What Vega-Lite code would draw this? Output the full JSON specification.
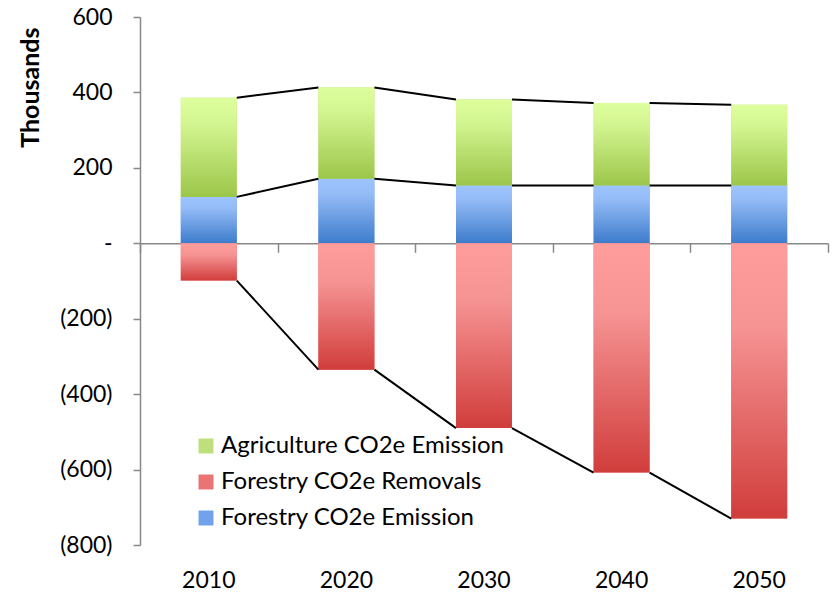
{
  "$schema": "https://vega.github.io/schema/vega-lite/v6.json",
  "width": 688,
  "height": 528,
  "autosize": "none",
  "padding": {"left": 140, "top": 17, "right": 6, "bottom": 48},
  "background": "white",
  "config": {
    "font": "Lato",
    "view": {"stroke": null},
    "axis": {"labelFont": "Lato", "labelFontSize": 23, "labelColor": "#000000", "grid": false, "domainColor": "#888888", "tickColor": "#888888", "domainWidth": 1.5, "tickWidth": 1.5},
    "legend": {"labelFont": "Lato", "labelFontSize": 24, "labelColor": "#000000"}
  },
  "datasets": {
    "bars": [
      {"year": 2010, "series": "Forestry CO2e Emission", "value": 123},
      {"year": 2020, "series": "Forestry CO2e Emission", "value": 171},
      {"year": 2030, "series": "Forestry CO2e Emission", "value": 153},
      {"year": 2040, "series": "Forestry CO2e Emission", "value": 153},
      {"year": 2050, "series": "Forestry CO2e Emission", "value": 153},
      {"year": 2010, "series": "Agriculture CO2e Emission", "value": 263},
      {"year": 2020, "series": "Agriculture CO2e Emission", "value": 242},
      {"year": 2030, "series": "Agriculture CO2e Emission", "value": 228},
      {"year": 2040, "series": "Agriculture CO2e Emission", "value": 219},
      {"year": 2050, "series": "Agriculture CO2e Emission", "value": 214},
      {"year": 2010, "series": "Forestry CO2e Removals", "value": -99},
      {"year": 2020, "series": "Forestry CO2e Removals", "value": -335},
      {"year": 2030, "series": "Forestry CO2e Removals", "value": -490},
      {"year": 2040, "series": "Forestry CO2e Removals", "value": -608},
      {"year": 2050, "series": "Forestry CO2e Removals", "value": -730}
    ],
    "lines": [
      {"year": 2010, "nextYear": 2020, "from": 386, "to": 413},
      {"year": 2020, "nextYear": 2030, "from": 413, "to": 381},
      {"year": 2030, "nextYear": 2040, "from": 381, "to": 372},
      {"year": 2040, "nextYear": 2050, "from": 372, "to": 367},
      {"year": 2010, "nextYear": 2020, "from": 123, "to": 171},
      {"year": 2020, "nextYear": 2030, "from": 171, "to": 153},
      {"year": 2030, "nextYear": 2040, "from": 153, "to": 153},
      {"year": 2040, "nextYear": 2050, "from": 153, "to": 153},
      {"year": 2010, "nextYear": 2020, "from": -99, "to": -335},
      {"year": 2020, "nextYear": 2030, "from": -335, "to": -490},
      {"year": 2030, "nextYear": 2040, "from": -490, "to": -608},
      {"year": 2040, "nextYear": 2050, "from": -608, "to": -730}
    ]
  },
  "layer": [
    {
      "data": {"name": "bars"},
      "mark": {"type": "bar", "width": {"band": 0.407}},
      "encoding": {
        "x": {
          "field": "year", "type": "ordinal",
          "scale": {"paddingInner": 0, "paddingOuter": 0},
          "axis": {"orient": "bottom", "labels": false, "domain": true, "ticks": true, "tickBand": "extent", "tickSize": 9, "title": null,
                   "offset": {"expr": "scale('y', 0) - height"}}
        },
        "y": {
          "field": "value", "type": "quantitative", "stack": "zero",
          "scale": {"domain": [-800, 600], "nice": false, "zero": false},
          "axis": {
            "values": [-800, -600, -400, -200, 0, 200, 400, 600],
            "tickSize": 7, "labelPadding": 21,
            "labelExpr": "datum.value == 0 ? '-\u2007\u2007\u00a0' : (datum.value < 0 ? '(' + format(-datum.value, 'd') + ')' : format(datum.value, 'd') + '\u00a0')",
            "title": "Thousands", "titleFont": "Lato", "titleFontSize": 25, "titleFontWeight": "bold", "titleColor": "#000000",
            "titleAnchor": "end", "titleY": 10, "titleAlign": "right", "titlePadding": 16
          }
        },
        "color": {
          "field": "series", "type": "nominal",
          "scale": {
            "domain": ["Agriculture CO2e Emission", "Forestry CO2e Removals", "Forestry CO2e Emission"],
            "range": ["#bde07c", "#ea7474", "#72a3ea"]
          },
          "legend": {
            "title": null, "orient": "none", "legendX": 54, "legendY": 417,
            "symbolType": "square", "symbolSize": 225, "symbolStrokeWidth": 0, "symbolOpacity": 1,
            "labelOffset": 3, "rowPadding": 12, "padding": 0, "labelLimit": 0
          }
        },
        "order": {"field": "series", "sort": "descending"}
      }
    },
    {
      "data": {"name": "bars"},
      "mark": {"type": "bar", "width": {"band": 0.407}},
      "encoding": {
        "x": {"field": "year", "type": "ordinal", "axis": null},
        "y": {"field": "value", "type": "quantitative", "stack": "zero"},
        "detail": {"field": "series"},
        "fill": {
          "condition": [
            {"test": "datum.series == 'Agriculture CO2e Emission'", "value": {"gradient": "linear", "x1": 0, "y1": 0, "x2": 0, "y2": 1, "stops": [{"offset": 0, "color": "#ddfe9c"}, {"offset": 0.25, "color": "#d4f692"}, {"offset": 1, "color": "#9cc64a"}]}},
            {"test": "datum.series == 'Forestry CO2e Removals'", "value": {"gradient": "linear", "x1": 0, "y1": 0, "x2": 0, "y2": 1, "stops": [{"offset": 0, "color": "#ff9c9c"}, {"offset": 0.3, "color": "#f69494"}, {"offset": 1, "color": "#d03d3b"}]}}
          ],
          "value": {"gradient": "linear", "x1": 0, "y1": 0, "x2": 0, "y2": 1, "stops": [{"offset": 0, "color": "#9dc4ff"}, {"offset": 0.25, "color": "#93bbf6"}, {"offset": 1, "color": "#3d7ccb"}]}
        },
        "order": {"field": "series", "sort": "descending"}
      }
    },
    {
      "data": {"name": "lines"},
      "mark": {"type": "rule", "color": "#000000", "strokeWidth": 2},
      "encoding": {
        "x": {
          "field": "year", "type": "ordinal", "bandPosition": 0.7035,
          "axis": {"orient": "bottom", "domain": false, "ticks": false, "labelPadding": 24, "labelAngle": 0, "title": null, "bandPosition": 0.5}
        },
        "x2": {"field": "nextYear", "bandPosition": 0.2965},
        "y": {"field": "from", "type": "quantitative"},
        "y2": {"field": "to"}
      }
    }
  ],
  "resolve": {"axis": {"x": "independent"}}
}
